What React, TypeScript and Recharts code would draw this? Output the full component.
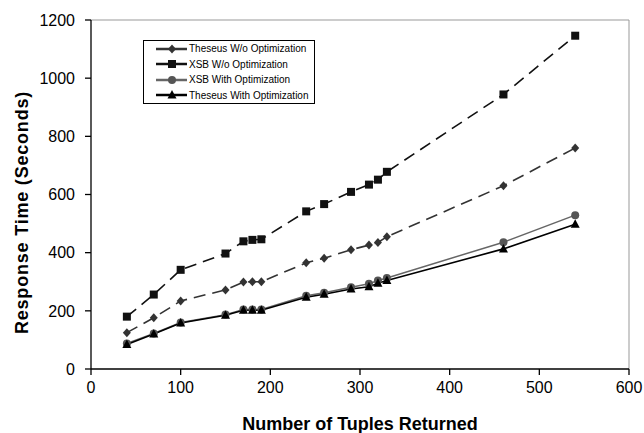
import React from "react";
import { LineChart, Line, XAxis, YAxis, ReferenceLine, Legend } from "recharts";

const tuples = [40, 70, 100, 150, 170, 180, 190, 240, 260, 290, 310, 320, 330, 460, 540];
const theseusWithout = [125, 176, 234, 272, 299, 300, 300, 365, 381, 410, 426, 435, 455, 630, 760];
const xsbWithout = [180, 256, 341, 397, 439, 444, 446, 542, 567, 609, 634, 651, 678, 944, 1146];
const xsbWith = [88, 122, 160, 187, 205, 205, 205, 252, 262, 281, 293, 304, 313, 436, 529];
const theseusWith = [84, 120, 158, 185, 202, 202, 202, 247, 257, 275, 283, 295, 304, 413, 498];

const xTicks = [0, 100, 200, 300, 400, 500, 600];
const yTicks = [0, 200, 400, 600, 800, 1000, 1200];

const data = tuples.map((t, i) => ({
    tuples: t,
    theseusWithout: theseusWithout[i],
    xsbWithout: xsbWithout[i],
    xsbWith: xsbWith[i],
    theseusWith: theseusWith[i],
}));

const FONT = '"Liberation Sans", Arial, Helvetica, sans-serif';

type Shape = "diamond" | "square" | "circle" | "triangle";

function Marker({ cx, cy, shape, color }: { cx: number; cy: number; shape: Shape; color: string }) {
    if (shape === "diamond") {
        return <polygon points={`${cx},${cy - 4.5} ${cx + 4},${cy} ${cx},${cy + 4.5} ${cx - 4},${cy}`} fill={color} />;
    }
    if (shape === "square") {
        return <rect x={cx - 4} y={cy - 4} width={8} height={8} fill={color} />;
    }
    if (shape === "circle") {
        return <circle cx={cx} cy={cy} r={4} fill={color} />;
    }
    return <polygon points={`${cx},${cy - 5} ${cx + 4.5},${cy + 3.5} ${cx - 4.5},${cy + 3.5}`} fill={color} />;
}

const series = [
    { key: "theseusWithout", name: "Theseus W/o Optimization", shape: "diamond" as Shape, color: "#333333", markColor: "#333333", dash: "12 7", width: 1.6 },
    { key: "xsbWithout", name: "XSB W/o Optimization", shape: "square" as Shape, color: "#111111", markColor: "#111111", dash: "12 7", width: 1.6 },
    { key: "xsbWith", name: "XSB With Optimization", shape: "circle" as Shape, color: "#666666", markColor: "#555555", dash: undefined, width: 1.5 },
    { key: "theseusWith", name: "Theseus With Optimization", shape: "triangle" as Shape, color: "#000000", markColor: "#000000", dash: undefined, width: 1.6 },
];

function LegendBox() {
    return (
        <div
            style={{
                border: "1px solid #000",
                background: "#fff",
                boxSizing: "border-box",
                width: 172,
                height: 64,
                paddingTop: 0,
                fontFamily: FONT,
                fontSize: 10,
                color: "#000",
            }}
        >
            {series.map((s) => (
                <div key={s.key} style={{ display: "flex", alignItems: "center", height: 15.5 }}>
                    <svg width={45} height={12} style={{ flex: "none" }}>
                        <line x1={12} y1={6} x2={43} y2={6} stroke={s.color} strokeWidth={2.5} />
                        <Marker cx={28} cy={6} shape={s.shape} color={s.markColor} />
                    </svg>
                    <span style={{ whiteSpace: "nowrap" }}>{s.name}</span>
                </div>
            ))}
        </div>
    );
}

function YLabel(props: any) {
    const { viewBox } = props;
    const cx = viewBox.x + 22;
    const cy = viewBox.y + viewBox.height / 2 + 18;
    return (
        <text
            x={cx}
            y={cy}
            transform={`rotate(-90, ${cx}, ${cy})`}
            textAnchor="middle"
            dominantBaseline="central"
            fontFamily={FONT}
            fontWeight="bold"
            fontSize={18}
            letterSpacing={0.8}
            fill="#000"
        >
            Response Time (Seconds)
        </text>
    );
}

function XLabel(props: any) {
    const { viewBox } = props;
    return (
        <text
            x={viewBox.x + viewBox.width / 2}
            y={430}
            textAnchor="middle"
            fontFamily={FONT}
            fontWeight="bold"
            fontSize={18}
            fill="#000"
        >
            Number of Tuples Returned
        </text>
    );
}

export default function App() {
    return (
        <div style={{ position: "absolute", left: 0, top: 0, background: "#fff" }}>
            <LineChart width={644} height={433} data={data} margin={{ top: 20, right: 15, bottom: 0, left: 0 }}>
                <XAxis
                    dataKey="tuples"
                    type="number"
                    domain={[0, 600]}
                    ticks={xTicks}
                    height={64}
                    tickSize={6}
                    tickMargin={7}
                    stroke="#000"
                    strokeWidth={1.3}
                    tick={{ fill: "#000", fontSize: 16, fontFamily: FONT }}
                    label={<XLabel />}
                />
                <YAxis
                    type="number"
                    domain={[0, 1200]}
                    ticks={yTicks}
                    width={91}
                    tickSize={6}
                    tickMargin={10}
                    stroke="#000"
                    strokeWidth={1.3}
                    tick={{ fill: "#000", fontSize: 16, fontFamily: FONT }}
                    label={<YLabel />}
                />
                <ReferenceLine y={1200} stroke="#999" strokeWidth={1} />
                <ReferenceLine x={600} stroke="#999" strokeWidth={1} />
                {series.map((s) => (
                    <Line
                        key={s.key}
                        dataKey={s.key}
                        name={s.name}
                        type="linear"
                        stroke={s.color}
                        strokeWidth={s.width}
                        strokeDasharray={s.dash}
                        isAnimationActive={false}
                        dot={(p: any) => (
                            <Marker key={`${s.key}-${p.index}`} cx={p.cx} cy={p.cy} shape={s.shape} color={s.markColor} />
                        )}
                        activeDot={false}
                    />
                ))}
                <Legend
                    layout="vertical"
                    align="center"
                    verticalAlign="middle"
                    content={() => <LegendBox />}
                    wrapperStyle={{ left: 143, top: 40, width: 172, height: 64 }}
                />
            </LineChart>
        </div>
    );
}
